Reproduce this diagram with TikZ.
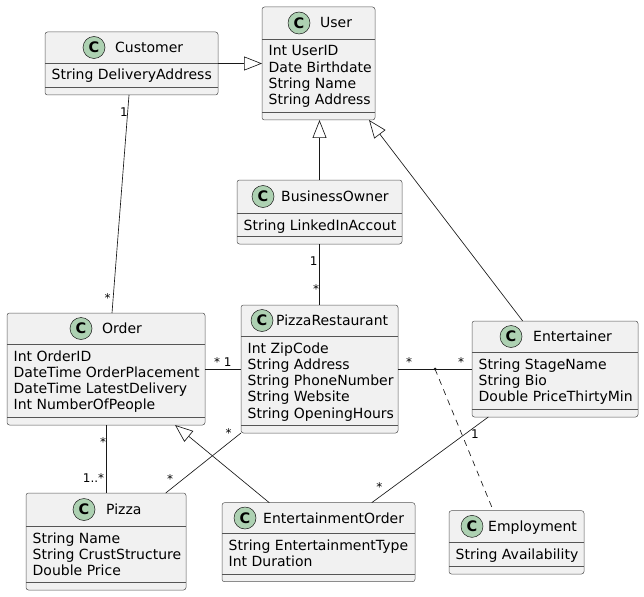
\documentclass[tikz,border=0pt]{standalone}
\usepackage{fontspec}
\setmainfont{DejaVu Sans}
\usetikzlibrary{arrows.meta,calc}
\definecolor{boxfill}{HTML}{F1F1F1}
\definecolor{boxline}{HTML}{181818}
\definecolor{boxedge}{HTML}{555555}
\definecolor{circfill}{HTML}{ADD1B2}
\tikzset{
  clsbox/.style={draw=boxedge, fill=boxfill, line width=0.5pt, rounded corners=2.5pt, inner sep=0pt, outer sep=0pt},
  sepline/.style={draw=boxedge, line width=0.5pt},
  circ/.style={circle, draw=boxline, fill=circfill, line width=0.5pt, minimum size=22pt, inner sep=0pt, font=\fontsize{14.5}{16}\selectfont\bfseries},
  ttl/.style={anchor=base west, inner sep=0pt, font=\fontsize{14}{16}\selectfont},
  attr/.style={anchor=base west, inner sep=0pt, font=\fontsize{14}{16}\selectfont},
  conn/.style={draw=boxline, line width=0.65pt},
  lbl/.style={inner sep=0pt, font=\fontsize{12}{14}\selectfont},
  gen/.style={conn, -{Triangle[length=18pt,width=14pt,fill=white,line width=0.65pt]}},
}
\newcommand{\umlclass}[9]{%
  \node[clsbox, minimum width={(#4-#2)*1pt}, minimum height={(#5-#3)*1pt}] (#1) at ({(#2+#4)/2},{(#3+#5)/2}) {};
  \draw[sepline] (#2,#6) -- (#4,#6);
  \draw[sepline] (#2,{#5-7.5}) -- (#4,{#5-7.5});
  \node[circ] (#1-c) at (#7,{(#3+#6)/2}) {C};
  \node[ttl] (#1-t) at (#8,{(#3+#6)/2+5}) {#9};
}
\newcommand{\umlattrs}[4]{%
  \foreach \atx [count=\ai] in {#4} {
    \node[attr] (#1-a\ai) at ({#2+6.5},{#3+17+(\ai-1)*16.3}) {\atx};
  }
}
\begin{document}
\begin{tikzpicture}[x=1pt,y=-1pt]
\fill[white] (0,0) rectangle (644,596);
\useasboundingbox (0,0) rectangle (644,596);

\umlclass{user}{262}{7}{375}{120}{39}{299}{320}{User}
\umlattrs{user}{262}{39}{Int UserID,Date Birthdate,String Name,String Address}
\umlclass{customer}{45}{32}{218}{95}{63}{94}{115}{Customer}
\umlattrs{customer}{45}{63}{String DeliveryAddress}
\umlclass{bo}{237}{180}{402}{244}{213}{263}{281}{BusinessOwner}
\umlattrs{bo}{237}{213}{String LinkedInAccout}
\umlclass{pr}{241}{305}{398}{433}{336}{262}{276}{PizzaRestaurant}
\umlattrs{pr}{241}{336}{Int ZipCode,String Address,String PhoneNumber,String Website,String OpeningHours}
\umlclass{order}{7}{313}{205}{425}{344}{81}{102}{Order}
\umlattrs{order}{7}{344}{Int OrderID,DateTime OrderPlacement,DateTime LatestDelivery,Int NumberOfPeople}
\umlclass{ent}{472}{321}{638}{417}{352}{511}{533}{Entertainer}
\umlattrs{ent}{472}{352}{String StageName,String Bio,Double PriceThirtyMin}
\umlclass{emp}{449}{510.7}{584}{574}{542}{472}{488}{Employment}
\umlattrs{emp}{449}{542}{String Availability}
\umlclass{pizza}{26}{493}{186}{590}{526}{84}{106}{Pizza}
\umlattrs{pizza}{26}{526}{String Name,String CrustStructure,Double Price}
\umlclass{eo}{222}{502.7}{415}{581.7}{533.3}{245}{263}{EntertainmentOrder}
\umlattrs{eo}{222}{533.3}{String EntertainmentType,Int Duration}

% generalizations
\draw[gen] (customer.east) -- (customer.east -| user.west);
\draw[gen] (bo.north) -- (bo.north |- user.south);
\draw[gen] ([xshift=50.7pt]ent.north west) -- ([xshift=107pt]user.south west);
\draw[gen] ([xshift=47.3pt]eo.north west) -- ([xshift=168pt]order.south west);

% associations
\draw[conn] ([xshift=84pt]customer.south west) -- node[lbl,pos=0,xshift=-5pt,yshift=-17pt] (l1) {1} node[lbl,pos=1,xshift=-4.3pt,yshift=14.7pt] (l2) {*} ([xshift=105pt]order.north west);
\draw[conn] (bo.south) -- node[lbl,pos=0,xshift=-5.8pt,yshift=-16.7pt] (l3) {1} node[lbl,pos=1,xshift=-3.5pt,yshift=16pt] (l4) {*} (bo.south |- pr.north);
\draw[conn] (order.east) -- node[lbl,pos=0,xshift=12pt,yshift=6.7pt] (l5) {*} node[lbl,pos=1,xshift=-13.3pt,yshift=7.3pt] (l6) {1} (order.east -| pr.west);
\draw[conn] (pr.east) -- node[lbl,pos=0,xshift=11pt,yshift=6.7pt] (l7) {*} node[lbl,pos=1,xshift=-11pt,yshift=6.7pt] (l8) {*} (pr.east -| ent.west);
\coordinate (assoc) at ($(pr.east)!0.5!(ent.west)$);
\fill[boxline] (assoc) circle (1.5pt);
\draw[conn, dash pattern=on 6pt off 5pt] (assoc) -- ([xshift=44.3pt]emp.north west);
\draw[conn] (pizza.north |- order.south) -- node[lbl,pos=0,xshift=-3pt,yshift=-17.3pt] (l9) {*} node[lbl,pos=1,xshift=-12.5pt,yshift=15pt] (l10) {1..*} (pizza.north);
\draw[conn] (pr.south west) -- node[lbl,pos=0,xshift=-12.3pt] (l11) {*} node[lbl,pos=1,xshift=4.3pt,yshift=14pt] (l12) {*} ([xshift=139.7pt]pizza.north west);
\draw[conn] ([xshift=16.3pt]ent.south west) -- node[lbl,pos=0,xshift=-13.3pt,yshift=-17pt] (l13) {1} node[lbl,pos=1,xshift=7.6pt,yshift=15.4pt] (l14) {*} ([xshift=149.7pt]eo.north west);
\end{tikzpicture}
\end{document}
